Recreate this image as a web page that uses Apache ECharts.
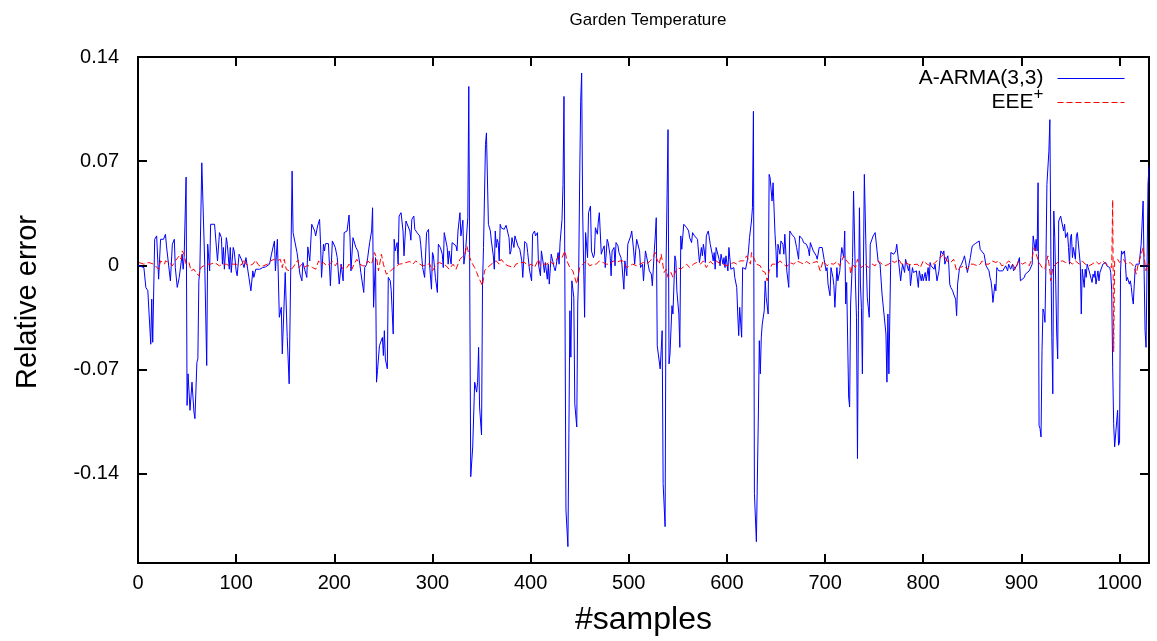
<!DOCTYPE html>
<html>
<head>
<meta charset="utf-8">
<script src="https://cdn.jsdelivr.net/npm/echarts@6/dist/echarts.min.js"></script>
<style>html,body{margin:0;padding:0;background:#fff}#c{width:1157px;height:641px}</style>
</head>
<body>
<div id="c"></div>
<script>
const chartTitle = 'Garden Temperature';
const seriesNames = ['A-ARMA(3,3)', 'EEE+'];
const xTicks = [0, 100, 200, 300, 400, 500, 600, 700, 800, 900, 1000];
const yTicks = [-0.14, -0.07, 0, 0.07, 0.14];
const xRange = [0, 1030];
const yRange = [-0.2, 0.14];

const armaSamples = [0,1,6,8,10,13,14,15,17,19,21,23,26,28,29,31,33,35,37,38,40,42,44,45,46,47,49,50,51,53,55,57,58,60,61,62,63,65,66,68,70,71,73,74,78,79,81,83,85,86,87,88,90,91,93,94,95,97,98,100,101,103,105,106,108,110,112,113,115,117,118,120,122,124,127,130,134,136,139,140,142,144,146,147,148,150,151,152,154,157,158,160,162,163,165,167,168,169,170,172,173,175,177,179,180,181,183,185,186,187,189,190,191,194,195,196,198,199,201,203,204,205,207,209,210,211,213,215,216,217,219,221,222,224,226,227,230,231,233,234,236,238,239,240,242,243,244,246,248,249,250,251,252,254,255,257,258,260,261,262,264,265,266,268,270,271,273,275,277,278,279,281,282,283,285,287,288,290,292,294,296,297,299,300,301,303,305,306,308,310,311,312,313,315,316,317,319,320,322,324,325,326,328,329,331,332,334,336,337,338,339,341,343,345,346,347,348,350,351,352,354,355,356,357,359,360,362,363,364,365,366,367,368,369,370,372,373,375,376,378,379,380,381,383,384,385,387,389,391,392,394,396,397,399,401,402,404,405,407,408,410,411,413,414,415,417,418,419,421,422,424,425,426,428,429,430,432,433,434,436,438,439,440,441,442,444,445,447,448,449,450,451,452,453,455,456,458,459,461,462,464,465,466,468,469,470,472,473,475,476,478,479,481,482,483,485,486,487,489,490,492,493,495,496,498,499,500,502,503,505,506,508,509,511,512,514,515,517,518,520,521,523,524,526,527,528,529,530,532,533,534,535,537,538,540,541,542,544,545,547,548,549,551,552,553,554,556,558,559,561,562,564,565,567,568,570,571,572,574,575,576,577,578,579,581,583,584,585,586,587,588,589,591,592,593,594,596,597,598,599,601,602,603,604,606,607,608,610,611,612,613,614,615,616,618,619,621,622,623,625,626,627,628,630,632,633,634,635,636,638,639,640,642,643,644,646,647,649,650,651,652,653,654,655,657,658,659,661,663,664,665,666,668,669,671,673,674,675,677,678,680,681,683,684,685,687,688,689,691,692,694,695,697,698,699,701,702,703,705,706,708,709,710,712,713,715,716,717,719,720,721,722,723,724,725,726,728,729,731,732,733,734,735,736,737,738,740,741,742,743,745,746,748,749,751,753,754,756,758,759,760,762,763,764,765,767,768,769,770,772,773,775,777,778,779,781,782,783,785,786,787,789,790,792,793,795,796,798,799,800,802,803,805,806,807,808,809,811,812,814,816,817,818,820,821,822,824,825,826,827,828,830,831,833,834,835,837,838,839,841,842,843,845,846,848,849,850,852,853,855,857,858,860,862,864,865,867,868,869,870,871,873,874,875,877,879,881,882,884,886,887,889,891,892,894,896,898,899,901,903,904,906,908,910,911,912,914,915,916,917,918,919,920,921,922,923,924,925,926,928,929,930,931,932,933,934,935,936,937,938,940,941,943,944,945,947,948,949,950,951,952,953,955,956,957,959,960,961,962,964,965,966,967,968,969,970,972,973,974,975,976,977,978,979,980,982,983,985,986,987,989,990,991,992,993,994,995,997,998,999,1000,1001,1002,1003,1004,1005,1006,1007,1008,1009,1010,1011,1012,1013,1014,1015,1016,1017,1018,1019,1020,1021,1022,1024,1025,1026,1027,1028,1029,1030];
const armaError = [0,-0.0003,-0.0015,-0.0148,-0.017,-0.053,-0.0227,-0.0517,0.0175,0.0198,-0.0093,0.0175,0.0175,0.0209,0.0131,0.012,-0.0104,0.0142,0.0175,-0.0015,-0.0148,-0.0081,-0.0093,0.0075,-0.0026,0.0052,0.0593,-0.0941,-0.0729,-0.0974,-0.0785,-0.0985,-0.103,-0.0651,-0.0628,-0.0104,-0.0037,0.0689,0.0678,0.0008,-0.0673,0.0142,-0.0037,0.0276,0.0276,0.0265,0.003,0.022,0.0186,0.0008,0.012,-0.0026,0.0186,0.0142,-0.0026,0.012,-0.0048,0.012,0.0097,-0.0037,-0.007,0.0075,0.0075,0.003,-0.0015,0.0052,0.0052,-0.0081,-0.0171,-0.0037,-0.0081,-0.0026,-0.0037,-0.0026,-0.0015,-0.001,0.0008,0.0075,0.0164,-0.0037,0.0175,-0.0349,-0.0282,-0.0595,-0.0606,-0.0048,-0.0059,-0.0479,-0.0796,0.0633,0.022,0.022,0.0086,0.0086,-0.0059,-0.0104,0.0019,0.0008,0.003,-0.0081,0.0124,0.003,0.0276,0.028,0.0231,0.0198,0.0265,0.0309,0.0142,-0.0081,0.0142,0.0097,0.0146,0.0146,0.0008,-0.0137,0.0164,0.0164,0.012,0.0052,-0.0037,-0.0126,0.0008,-0.0104,0.022,0.022,0.0231,0.0338,0.0186,-0.0037,0.0186,0.0198,0.012,0.0097,0.0008,-0.0048,-0.0182,-0.0015,0.0008,0.0052,0.0153,0.0231,0.0387,-0.0282,0.0052,-0.0785,-0.0707,-0.054,-0.0528,-0.0484,-0.0606,-0.0439,-0.0629,-0.0695,-0.0081,-0.0104,-0.0171,-0.0461,0.0175,0.0097,0.0153,0.0008,0.0331,0.0354,0.0231,0.0064,0.0298,0.0309,0.0231,0.0169,0.0309,0.0331,0.0242,0.0231,0.0213,0.0198,0.0142,-0.0015,-0.0081,0.022,0.0242,0.0008,-0.016,0.0086,0.0064,-0.0081,-0.0182,0.0142,0.012,0.0075,-0.0015,0.022,0.022,0.012,0.0008,0.0097,0.0008,0.0153,0.0153,0.0131,0.0097,0.0231,0.0354,0.0198,0.0303,0.0008,0.012,0.0321,0.1202,-0.0126,-0.142,-0.1221,-0.0785,-0.0852,-0.0785,-0.0551,-0.0952,-0.114,-0.0126,0.012,0.0812,0.089,0.089,0.0276,0.0231,0.0164,0.0064,-0.0026,0.0231,0.012,0.0175,0.0153,0.003,0.0276,0.0253,0.0265,0.0242,0.0269,0.0269,0.0186,0.0075,0.0097,0.0186,0.012,0.0198,0.0198,0.0131,0.0108,0.003,-0.0081,0.016,0.0146,0.0086,-0.0037,-0.0104,0.0209,0.0231,0.0198,0.022,0.0008,-0.007,0.0097,0.0008,-0.0048,0.0019,-0.0093,0.0008,-0.0126,0.0075,0.0064,-0.0015,-0.0037,-0.0003,0.0086,0.0008,0.0153,0.0309,0.0544,0.1135,-0.1644,-0.189,-0.1131,-0.0305,-0.0617,-0.0104,-0.0215,-0.093,-0.1086,-0.026,-0.0037,0.0588,0.1102,0.1292,0.0365,-0.0349,0.022,0.0052,0.0354,0.0399,0.0097,0.0052,0.0075,0.0253,0.0209,0.0298,0.0354,0.0075,0.0097,0.0131,-0.0015,0.0175,0.0153,0.0064,-0.007,0.0097,0.012,-0.0003,0.0153,0.0131,0.0086,0.0052,0.0008,-0.016,0.003,-0.007,0.0142,0.0142,0.0198,0.0231,0.0097,0.0008,0.0175,0.0164,0.0097,-0.0015,0.0008,-0.0104,0.0097,0.0064,0.0064,-0.0037,-0.0059,-0.0137,0.0097,0.0198,0.032,-0.054,-0.0528,-0.0696,-0.0573,-0.0439,-0.1466,-0.1756,0.0008,0.0912,-0.0662,-0.0595,-0.0271,-0.0327,0.0064,0.003,-0.0171,-0.0327,-0.0551,0.0198,0.0108,0.0276,0.0276,0.0253,0.0231,0.0186,0.0153,0.022,0.0198,0.0186,0.0175,0.0097,0.0019,0.012,0.0064,0.0142,0.0097,0.0019,0.0198,0.0231,0.0142,0.0142,0.0075,0.003,0.0086,-0.0026,0.012,0.012,0.0041,-0.0003,0.0075,0.0008,0.0052,-0.0015,0.0064,-0.0037,0.012,0.012,-0.0026,-0.0037,-0.0015,-0.0081,-0.0148,-0.0327,-0.0472,-0.0282,-0.0282,-0.0483,-0.0015,-0.0026,-0.0026,0.0041,0.0097,0.0186,0.0298,0.0387,0.1035,-0.1533,-0.1857,-0.1019,-0.0506,-0.0729,-0.0483,-0.0394,-0.0305,-0.0104,-0.0215,-0.0327,0.0611,0.0588,0.0432,0.0555,0.0209,0.0097,-0.0081,0.0142,0.0142,0.0075,0.0164,0.0142,0.0075,0.0209,-0.0037,-0.0148,0.0231,0.0242,0.0209,0.0213,0.0186,0.012,0.0041,0.0198,0.0198,0.0175,0.0153,0.0142,0.0142,0.0108,0.0064,0.0153,0.0164,0.0097,0.0086,0.0064,0.0041,0.012,0.0131,0.012,0.0131,0.0041,-0.0037,-0.0015,-0.0126,-0.0204,-0.0015,-0.0081,-0.0137,-0.0282,-0.0015,-0.0104,-0.0037,0.0052,0.012,0.0052,0.0231,-0.026,-0.0115,-0.0126,-0.0885,-0.0952,-0.026,0.0052,0.0499,-0.0126,-0.0349,-0.1298,-0.0305,0.0387,-0.0126,-0.0282,-0.0729,0.0611,0.0622,0.0008,-0.0215,-0.0349,0.0142,0.0142,0.0198,0.022,0.0209,0.003,0.0008,-0.0193,-0.0204,-0.0193,-0.0461,-0.0785,-0.0327,-0.0729,0.0086,0.0075,0.0097,0.0075,0.0097,0.0142,0.0153,-0.0104,-0.0037,0.0008,-0.0048,0.0041,0.003,-0.0037,0.0008,-0.0137,-0.0015,-0.0048,-0.0037,-0.0037,-0.0148,-0.0037,-0.0104,-0.0059,-0.0104,-0.0048,-0.0104,-0.0015,-0.0104,0.0019,-0.0003,0.0008,-0.0026,0.0008,-0.0104,-0.0037,0.0041,0.0097,0.0075,0.0097,0.0008,0.0008,0.0064,0.0008,-0.0126,-0.0148,-0.0171,-0.0193,-0.0227,-0.0338,-0.0126,-0.0015,-0.0003,0.0008,0.0041,0.0064,0.003,-0.0048,-0.0037,0.0052,0.0097,0.0131,0.0137,0.0146,0.0153,0.0164,0.0108,0.0097,0.0075,-0.0003,0.0008,-0.0037,-0.0081,-0.0104,-0.016,-0.0249,-0.0126,-0.0171,-0.0015,-0.0037,-0.0026,-0.0037,-0.0026,-0.0003,-0.0037,0.0008,-0.0026,0.0008,-0.0037,-0.0026,0.0008,0.0052,-0.0104,-0.0093,-0.0081,-0.0059,-0.0048,-0.0037,-0.0037,0.0008,0.0198,0.0097,0.0175,0.0097,0.0555,-0.1075,-0.1097,-0.1153,-0.0573,-0.0293,-0.0316,-0.0383,0.0008,0.0544,0.0767,0.0979,0.0097,-0.0484,-0.0863,0.0365,0.0186,-0.0126,-0.0461,-0.0628,0.0298,0.0331,0.032,0.0231,0.0276,0.0186,0.022,0.012,0.0008,0.0186,0.0209,0.0052,0.012,0.0041,0.0198,0.022,0.0209,0.0008,-0.0327,-0.0026,-0.0148,-0.0026,-0.0081,0.0008,-0.0015,-0.0037,-0.0048,-0.0115,-0.0059,-0.0081,-0.0037,-0.0126,-0.0081,-0.0037,-0.0104,-0.0048,-0.0037,0.0008,-0.0003,0.0019,-0.0003,-0.0015,-0.0015,-0.0048,-0.0171,-0.0684,-0.1064,-0.122,-0.1209,-0.0974,-0.1209,-0.1187,-0.0037,0.0097,0.0075,0.0075,0.0097,0.0008,-0.0104,-0.0081,-0.007,-0.0126,-0.0104,-0.0148,-0.0215,-0.026,-0.0126,-0.0015,0.0008,0.0008,-0.0003,0.0008,0.0008,0.0142,0.0432,-0.0026,-0.0439,-0.0551,-0.0015,0.0544,0.0666];

const eeeSamples = [1,6,11,16,21,23,27,28,32,35,38,42,44,45,47,49,52,54,57,59,62,64,67,71,74,78,80,83,86,90,93,96,100,103,106,108,110,113,117,120,122,125,127,132,135,139,142,145,147,149,151,154,158,161,163,164,167,169,172,175,178,181,184,186,189,192,195,198,201,203,207,209,213,215,218,220,223,226,229,232,234,236,238,241,243,245,248,250,253,256,259,263,266,270,273,277,280,283,287,290,294,297,300,304,307,311,314,317,321,324,326,328,330,333,335,338,340,343,345,347,349,351,353,356,358,362,365,368,370,374,377,379,383,385,390,392,394,397,401,404,408,410,413,417,419,423,426,429,432,435,437,440,443,445,447,450,453,457,460,464,467,470,474,477,481,484,487,491,494,498,501,504,508,511,515,518,522,525,527,528,531,533,536,538,540,543,545,548,550,553,555,559,562,566,569,573,576,579,583,586,589,593,596,600,603,607,610,613,617,620,624,625,628,630,634,636,639,641,643,646,648,651,654,658,661,664,668,671,675,678,681,685,688,692,695,698,702,705,709,712,715,719,722,725,726,728,731,733,735,737,741,744,748,751,754,758,761,765,768,771,775,778,782,785,788,790,794,797,800,804,807,811,814,817,821,824,828,831,834,838,841,845,848,851,855,858,860,863,867,870,874,877,880,884,887,891,894,897,901,904,908,911,913,915,918,921,924,925,927,929,930,932,935,938,942,945,948,952,955,959,962,965,969,972,976,979,983,986,989,992,993,994,995,998,1000,1004,1007,1011,1014,1016,1017,1019,1021,1024,1026,1027,1028,1030];
const eeeError = [0.0019,0.0008,0.0019,0.0008,-0.0026,0.003,0.0008,0.003,0.0019,-0.0003,0.003,0.0064,0.0041,0.0097,0.0075,0.0008,0.0019,-0.0037,-0.0026,-0.0048,-0.007,-0.0015,-0.0003,0.0008,0.0008,0.0019,0.003,-0.0003,0.0008,0.0008,-0.0003,0.0008,0.0008,-0.0003,0.0008,0.0041,0.0008,-0.0003,0.0008,0.0035,0.0008,-0.001,-0.001,0.0008,0.003,0.0041,0.003,0.0041,-0.0015,0.0041,-0.0026,-0.0037,-0.0015,0.0019,0.0035,-0.0015,0.0008,-0.0015,-0.0003,-0.0003,-0.0015,-0.0026,0.003,0.0008,0.0019,-0.0003,0.0008,0.0026,-0.0003,0.0019,-0.0003,-0.0026,-0.0015,0.0008,-0.0026,0.0008,0.0041,0.0008,-0.0003,-0.0003,0.003,0.0041,0.0008,0.0086,0.0052,-0.0037,0.0075,0.0008,-0.0059,-0.0048,-0.0026,-0.001,0.0008,0.0012,0.0019,0.0026,0.0008,0.003,0.0008,-0.0003,0.0003,0.0012,-0.0037,0.0008,0.0019,0.0008,-0.0003,-0.0026,0.0008,-0.0026,-0.0037,0.0041,0.003,0.0075,0.0131,0.0052,0.0019,-0.0015,-0.0048,-0.0081,-0.0081,-0.0137,-0.0037,-0.0015,-0.0003,0.0019,0.003,0.0008,0.0041,0.0008,-0.0003,0.0008,-0.0015,0.0008,0.0019,0.003,0.0019,-0.0003,0.0008,-0.0015,0.0041,-0.0003,0.0008,0.0008,0.003,0.0008,0.0035,0.0064,0.0052,0.0097,0.003,-0.0015,-0.0037,-0.0048,-0.0126,-0.0015,0.0008,0.003,-0.0003,0.0008,0.0008,0.003,0.0019,0.0008,0.0008,0.003,0.0019,0.003,0.003,-0.0015,-0.0003,0.0008,-0.0003,0.0008,0.0019,0.0008,0.003,0.006,0.0086,0.0052,0.0008,0.0075,-0.0048,-0.0026,-0.0081,-0.0048,-0.0081,-0.0037,-0.0015,-0.0026,-0.0015,0.0008,-0.0015,0.0008,0.0019,0.0008,0.003,-0.0015,0.0026,0.0008,0.003,0.0012,0.0008,-0.0003,0.0008,0.0019,0.0008,0.003,0.003,0.0064,0.0008,0.0086,0.0041,0.0008,-0.0003,-0.0037,-0.0048,-0.0104,-0.0037,0.0008,0.0019,0.0008,0.003,0.0008,-0.001,0.0019,0.0008,0.003,0.0019,0.0008,0.0026,0.0008,0.0019,0.0026,-0.0037,0.003,-0.0003,0.0012,0.0008,0.0026,-0.0003,0.0064,0.003,0.0008,-0.0059,0.0008,-0.0015,0.0041,0.003,-0.0015,0.0008,-0.0015,0.0008,-0.0003,0.003,0.0008,-0.0003,0.0008,0.003,0.0019,0.0041,0.0008,0.0019,0.0008,0.0003,-0.0003,0.0008,-0.0015,0.003,0.0008,-0.0003,0.0012,0.003,0.0052,0.0075,0.003,0.0019,0.0041,-0.0037,-0.0015,-0.0003,-0.0026,0.0008,0.0008,-0.0003,0.0008,0.003,0.0008,0.0008,0.003,0.0019,0.003,-0.0003,0.0008,0.003,0.0008,-0.0026,0.003,0.0008,0.0019,-0.0003,0.0052,0.012,0.0075,0.0019,-0.0015,-0.0026,0.0008,0.0064,-0.0037,-0.0104,-0.0015,0.0008,0.0026,0.003,0.0019,0.003,0.0008,0.003,0.0008,0.003,0.0008,-0.0003,0.0008,0.0026,0.0008,0.003,0.0008,-0.0003,-0.0015,0.044,-0.058,0.003,0.0041,0.0019,0.0041,0.0008,0.0019,-0.0003,-0.0037,-0.0059,0.0008,0.0019,0.0119,0.0008,-0.0037,0.0008,0.0008];

const FONT = "'Liberation Sans', Arial, Helvetica, sans-serif";
const zip = (xs, ys) => xs.map((x, i) => [x, ys[i]]);
const fmtY = v => String(Math.round(v * 100) / 100);
const fmtX = v => String(Math.round(v));

const chart = echarts.init(document.getElementById('c'), null, {renderer: 'canvas'});
const tickStyle = {show: true, inside: true, length: 9, lineStyle: {color: '#000', width: 2}};
chart.setOption({
  animation: false,
  backgroundColor: '#fff',
  title: {
    text: chartTitle, left: 643, top: 7, textAlign: 'center',
    textStyle: {fontFamily: FONT, fontSize: 17, fontWeight: 'normal', color: '#000'}
  },
  legend: {
    orient: 'vertical', right: 32, top: 68, align: 'right', padding: 0,
    itemWidth: 67, itemHeight: 12, itemGap: -3,
    data: seriesNames,
    itemStyle: {opacity: 0},
    lineStyle: {width: 1},
    formatter: n => n === 'EEE+' ? '{b|EEE}{s|+}' : '{b|' + n + '}',
    textStyle: {
      fontFamily: FONT, color: '#000', padding: [0, 9, 0, 0],
      rich: {b: {fontFamily: FONT, fontSize: 21, color: '#000'},
             s: {fontFamily: FONT, fontSize: 17, color: '#000', padding: [0, 0, 16, 0]}}
    }
  },
  grid: {left: 138, right: 8, top: 57, bottom: 76, show: true, borderColor: '#000', borderWidth: 2, backgroundColor: 'transparent'},
  xAxis: [{
    type: 'value', min: xRange[0], max: xRange[1],
    name: '#samples', nameLocation: 'middle', nameGap: 41,
    nameTextStyle: {fontFamily: FONT, fontSize: 32, color: '#000'},
    axisLine: {show: false, onZero: false}, splitLine: {show: false},
    axisTick: Object.assign({customValues: xTicks}, tickStyle),
    axisLabel: {customValues: xTicks, formatter: fmtX, margin: 10, fontFamily: FONT, fontSize: 20, color: '#000'}
  }, {
    type: 'value', position: 'top', min: xRange[0], max: xRange[1],
    axisLine: {show: false, onZero: false}, splitLine: {show: false},
    axisTick: Object.assign({customValues: xTicks}, tickStyle),
    axisLabel: {show: false, customValues: xTicks}
  }],
  yAxis: [{
    type: 'value', min: yRange[0], max: yRange[1],
    name: 'Relative error', nameLocation: 'middle', nameGap: 96,
    nameTextStyle: {fontFamily: FONT, fontSize: 29, color: '#000', padding: [0, 0, 0, 16]},
    axisLine: {show: false, onZero: false}, splitLine: {show: false},
    axisTick: Object.assign({customValues: yTicks}, tickStyle),
    axisLabel: {customValues: yTicks, formatter: fmtY, margin: 19, fontFamily: FONT, fontSize: 20, color: '#000'}
  }, {
    type: 'value', position: 'right', min: yRange[0], max: yRange[1],
    axisLine: {show: false, onZero: false}, splitLine: {show: false},
    axisTick: Object.assign({customValues: yTicks}, tickStyle),
    axisLabel: {show: false, customValues: yTicks}
  }],
  series: [{
    name: seriesNames[0], type: 'line', xAxisIndex: 0, yAxisIndex: 0,
    data: zip(armaSamples, armaError), symbol: 'none', showSymbol: false,
    lineStyle: {color: '#0000ff', width: 1}, itemStyle: {color: '#0000ff'}
  }, {
    name: seriesNames[1], type: 'line', xAxisIndex: 0, yAxisIndex: 0,
    data: zip(eeeSamples, eeeError), symbol: 'none', showSymbol: false,
    lineStyle: {color: '#ff0000', width: 1, type: [6, 3]}, itemStyle: {color: '#ff0000'}
  }]
});
</script>
</body>
</html>
